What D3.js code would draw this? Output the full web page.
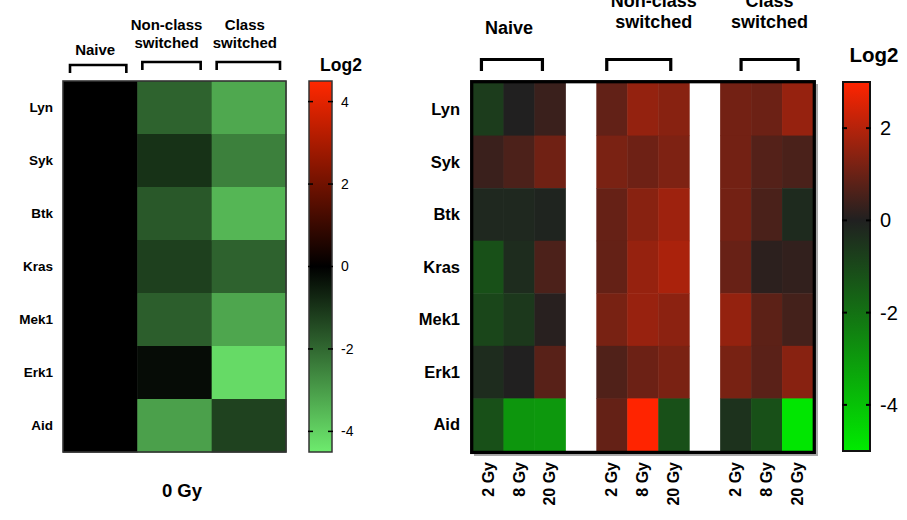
<!DOCTYPE html>
<html><head><meta charset="utf-8">
<script src="https://cdn.jsdelivr.net/npm/d3@7"></script>
<style>body{margin:0;background:#fff}svg{display:block;font-family:"Liberation Sans",Arial,sans-serif}</style>
</head><body><svg id="c" width="907" height="520"></svg>
<script>
const genes = ["Lyn","Syk","Btk","Kras","Mek1","Erk1","Aid"];
const leftGroups = ["Naive","Non-class switched","Class switched"];
const leftNaive    = [0,0,0,0,0,0,0];
const leftNonClass = [-1.90,-0.96,-1.69,-1.23,-1.80,-0.23,-3.06];
const leftClass    = [-3.22,-2.45,-3.49,-1.88,-3.18,-4.17,-1.26];
const leftTicks = [4,2,0,-2,-4];
const leftXLabel = "0 Gy";

const doses = ["2 Gy","8 Gy","20 Gy"];
const rightGroups = ["Naive","Non-class switched","Class switched"];
// per gene: [2 Gy, 8 Gy, 20 Gy]
const rightNaive = [[-0.69,0.02,0.35],[0.35,0.59,1.08],[-0.2,-0.2,-0.1],[-1.18,-0.3,0.59],[-0.94,-0.59,0.11],[-0.3,0.02,0.75],[-1.18,-2.9,-2.95]];
const rightNonClass = [[0.89,1.56,1.40],[1.21,1.05,1.26],[0.94,1.40,1.70],[0.91,1.59,1.86],[1.18,1.61,1.45],[0.65,1.02,1.21],[0.91,3.0,-1.18]];
const rightClass = [[1.12,1.02,1.59],[1.12,0.70,0.57],[1.12,0.57,-0.25],[0.97,0.16,0.24],[1.56,0.81,0.48],[1.18,0.78,1.40],[-0.44,-1.18,-4.88]];
const rightTicks = [2,0,-2,-4];

const svg = d3.select("#c");

// ---------- LEFT PANEL ----------
const lx = d3.scaleBand().domain(leftGroups).range([63,286]);
const ly = d3.scaleBand().domain(genes).range([81,452]);
const lColor = d3.scaleLinear().domain([-4.5,0,4.5]).range(["rgb(110,235,110)","rgb(0,0,0)","rgb(255,40,0)"]);
const leftSeries = [leftNaive,leftNonClass,leftClass];
const leftCells = [];
leftGroups.forEach((g,i)=>genes.forEach((gn,j)=>leftCells.push({g,gn,v:leftSeries[i][j]})));
svg.append("g").selectAll("rect").data(leftCells).join("rect")
  .attr("x",d=>lx(d.g)).attr("y",d=>ly(d.gn)).attr("width",lx.bandwidth()+0.5).attr("height",ly.bandwidth()+0.5)
  .attr("fill",d=>lColor(d.v));
svg.append("rect").attr("x",63).attr("y",81).attr("width",223).attr("height",371)
  .attr("fill","none").attr("stroke","#333").attr("stroke-width",1.6);
// row labels
svg.append("g").selectAll("text").data(genes).join("text")
  .attr("x",53).attr("y",d=>ly(d)+ly.bandwidth()/2).attr("dy","0.35em")
  .attr("text-anchor","end").attr("font-weight","bold").attr("font-size",13.5).text(d=>d);
// group headers + brackets
const lHead = svg.append("g").attr("font-weight","bold").attr("font-size",15).attr("text-anchor","middle");
leftGroups.forEach((g,i)=>{
  const cx = lx(g)+lx.bandwidth()/2 + [-5,-8,-4][i];
  const words = g.split(" ");
  const t = lHead.append("text").attr("x",cx);
  if(words.length===1){ t.attr("y",55).text(g); }
  else { t.append("tspan").attr("x",cx).attr("y",30).text(words[0]); t.append("tspan").attr("x",cx).attr("y",47.5).text(words[1]); }
  const x0 = lx(g)+[7,5,5][i], x1 = lx(g)+lx.bandwidth()-[11,11,6][i], top=[65,62,62][i];
  svg.append("path").attr("d",`M${x0},${top+8}V${top}H${x1}V${top+8}`).attr("fill","none").attr("stroke","#000").attr("stroke-width",2.6);
});
svg.append("text").attr("x",182).attr("y",497).attr("text-anchor","middle").attr("font-weight","bold").attr("font-size",18.5).text(leftXLabel);

// left colorbar
const lcy = d3.scaleLinear().domain([-4.5,4.5]).range([452,81]);
const defs = svg.append("defs");
const lg = defs.append("linearGradient").attr("id","lg").attr("x1",0).attr("x2",0).attr("y1",1).attr("y2",0);
lColor.domain().forEach((d,i)=>lg.append("stop").attr("offset",(d+4.5)/9).attr("stop-color",lColor.range()[i]));
svg.append("rect").attr("x",309).attr("y",81).attr("width",23).attr("height",371).attr("fill","url(#lg)").attr("stroke","#333").attr("stroke-width",1.5);
const lt = svg.append("g");
leftTicks.forEach(t=>{
  lt.append("line").attr("x1",308).attr("x2",313).attr("y1",lcy(t)).attr("y2",lcy(t)).attr("stroke","#000").attr("stroke-width",1.5);
  lt.append("line").attr("x1",328).attr("x2",333).attr("y1",lcy(t)).attr("y2",lcy(t)).attr("stroke","#000").attr("stroke-width",1.5);
  lt.append("text").attr("x",341).attr("y",lcy(t)).attr("dy","0.35em").attr("font-size",14).text(t);
});
svg.append("text").attr("x",341).attr("y",71).attr("text-anchor","middle").attr("font-weight","bold").attr("font-size",17.5).text("Log2");

// ---------- RIGHT PANEL ----------
const colKeys = [];
rightGroups.forEach((g,i)=>{ doses.forEach(d=>colKeys.push(g+"|"+d)); if(i<2) colKeys.push("gap"+i); });
const rx = d3.scaleBand().domain(colKeys).range([472.5,813]);
const ry = d3.scaleBand().domain(genes).range([83,451]);
const rColor = d3.scaleLinear().domain([-5,0,3]).range(["rgb(0,235,0)","rgb(32,32,32)","rgb(255,36,0)"]);
const rightSeries = [rightNaive,rightNonClass,rightClass];
const rightCells = [];
rightGroups.forEach((g,i)=>genes.forEach((gn,j)=>doses.forEach((d,k)=>rightCells.push({col:g+"|"+d,gn,v:rightSeries[i][j][k]}))));
svg.append("g").selectAll("rect").data(rightCells).join("rect")
  .attr("x",d=>rx(d.col)).attr("y",d=>ry(d.gn)).attr("width",rx.bandwidth()+0.5).attr("height",ry.bandwidth()+0.5)
  .attr("fill",d=>rColor(d.v));
// frame with shadow
svg.append("path").attr("d","M474,455H817V84").attr("fill","none").attr("stroke","#aaa").attr("stroke-width",2);
svg.append("rect").attr("x",471.7).attr("y",81.7).attr("width",342.6).attr("height",370.7)
  .attr("fill","none").attr("stroke","#000").attr("stroke-width",3.3);
svg.append("g").selectAll("text").data(genes).join("text")
  .attr("x",460).attr("y",d=>ry(d)+ry.bandwidth()/2).attr("dy","0.35em")
  .attr("text-anchor","end").attr("font-weight","bold").attr("font-size",16.5).text(d=>d);
// x labels
svg.append("g").selectAll("text").data(colKeys.filter(k=>!k.startsWith("gap"))).join("text")
  .attr("transform",d=>`translate(${rx(d)+rx.bandwidth()/2},462) rotate(-90)`)
  .attr("dy","0.35em").attr("text-anchor","end").attr("font-weight","bold").attr("font-size",16).text(d=>d.split("|")[1]);
// headers + brackets
const rHead = svg.append("g").attr("font-weight","bold").attr("font-size",18).attr("text-anchor","middle");
rightGroups.forEach((g,i)=>{
  const gx0 = rx(g+"|"+doses[0]), gx1 = rx(g+"|"+doses[2])+rx.bandwidth();
  const cx = (gx0+gx1)/2;
  const tx = cx + [-10,11,3][i];
  const words = g.split(" ");
  const t = rHead.append("text").attr("x",tx);
  if(words.length===1){ t.attr("y",34).text(g); }
  else { t.append("tspan").attr("x",tx).attr("y",6.5).text(words[0]); t.append("tspan").attr("x",tx).attr("y",27.7).text(words[1]); }
  const bc = cx + [-7,-4,3][i];
  const hw = [30.5,32,28.5][i];
  svg.append("path").attr("d",`M${bc-hw},71V59.5H${bc+hw}V71`).attr("fill","none").attr("stroke","#000").attr("stroke-width",3.2);
});
// right colorbar
const rcy = d3.scaleLinear().domain([-5,3]).range([451,82]);
const rg = defs.append("linearGradient").attr("id","rg").attr("x1",0).attr("x2",0).attr("y1",1).attr("y2",0);
rColor.domain().forEach((d,i)=>rg.append("stop").attr("offset",(d+5)/8).attr("stop-color",rColor.range()[i]));
svg.append("rect").attr("x",843).attr("y",82).attr("width",27).attr("height",369).attr("fill","url(#rg)").attr("stroke","#111").attr("stroke-width",2);
const rt = svg.append("g");
rightTicks.forEach(t=>{
  rt.append("line").attr("x1",842).attr("x2",847).attr("y1",rcy(t)).attr("y2",rcy(t)).attr("stroke","#000").attr("stroke-width",2);
  rt.append("line").attr("x1",866).attr("x2",871).attr("y1",rcy(t)).attr("y2",rcy(t)).attr("stroke","#000").attr("stroke-width",2);
  rt.append("text").attr("x",880).attr("y",rcy(t)).attr("dy","0.35em").attr("font-size",20).text(t);
});
svg.append("text").attr("x",874).attr("y",62).attr("text-anchor","middle").attr("font-weight","bold").attr("font-size",20.5).text("Log2");
</script></body></html>
